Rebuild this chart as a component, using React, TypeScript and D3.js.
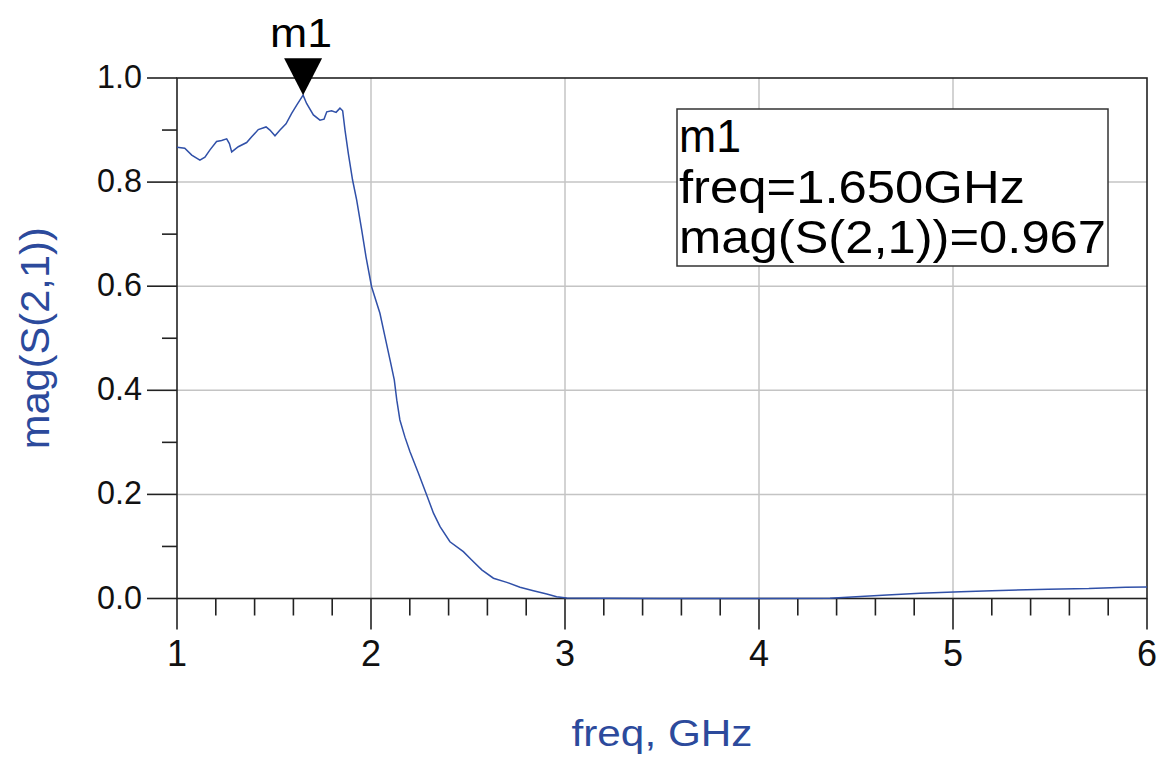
import React from "react";
import * as d3 from "d3";

const freq = [
  1.0, 1.04, 1.076, 1.118, 1.144, 1.17, 1.204, 1.23, 1.256, 1.27, 1.282, 1.316, 1.359, 1.385, 1.419,
  1.459, 1.479, 1.505, 1.531, 1.562, 1.591, 1.617, 1.65, 1.668, 1.703, 1.737, 1.758, 1.772, 1.797,
  1.82, 1.84, 1.854, 1.866, 1.883, 1.905, 1.926, 1.952, 1.974, 2.003, 2.046, 2.072, 2.1, 2.12, 2.133,
  2.149, 2.175, 2.201, 2.244, 2.287, 2.322, 2.356, 2.407, 2.476, 2.519, 2.571, 2.631, 2.7, 2.768, 2.837,
  2.906, 2.957, 3.009, 3.2, 3.5, 4.0, 4.366, 4.5, 4.66, 4.83, 5.04, 5.2, 5.49, 5.7, 5.89, 6.0,
];
const mag = [
  0.867, 0.865, 0.852, 0.842, 0.848, 0.862, 0.878, 0.88, 0.883, 0.874, 0.858, 0.868, 0.876, 0.887,
  0.901, 0.906, 0.9, 0.889, 0.9, 0.912, 0.932, 0.948, 0.967, 0.951, 0.929, 0.919, 0.921, 0.935,
  0.937, 0.934, 0.942, 0.937, 0.9, 0.855, 0.804, 0.766, 0.708, 0.657, 0.599, 0.548, 0.503, 0.455, 0.42,
  0.381, 0.343, 0.31, 0.282, 0.241, 0.199, 0.164, 0.138, 0.109, 0.09, 0.074, 0.055, 0.039, 0.031, 0.0215,
  0.015, 0.0087, 0.0035, 0.001, 0.0005, 0.0, 0.0, 0.0005, 0.0035, 0.0067, 0.01, 0.013, 0.015, 0.018,
  0.019, 0.0215, 0.022,
];

const xMajorTicks = [1, 2, 3, 4, 5, 6];
const xMinorTicks = [1.2, 1.4, 1.6, 1.8, 2.2, 2.4, 2.6, 2.8, 3.2, 3.4, 3.6, 3.8, 4.2, 4.4, 4.6, 4.8, 5.2, 5.4, 5.6, 5.8];
const yMajorTicks = [0, 0.2, 0.4, 0.6, 0.8, 1.0];
const yMinorTicks = [0.1, 0.3, 0.5, 0.7, 0.9];
const yTickLabels = ["0.0", "0.2", "0.4", "0.6", "0.8", "1.0"];

const markerName = "m1";
const markerFreq = 1.65;
const markerMag = 0.967;
const legendLines = ["m1", "freq=1.650GHz", "mag(S(2,1))=0.967"];
const legendWidths = [62, 346, 427];

const xLabel = "freq, GHz";
const yLabel = "mag(S(2,1))";

const FONT = "'Liberation Sans', Arial, sans-serif";
const BLUE_LINE = "#3050a8";
const BLUE_TEXT = "#2c4a9c";

export default function App() {
  const x = d3.scaleLinear().domain([1, 6]).range([177, 1147]);
  const y = d3.scaleLinear().domain([0, 1]).range([598.5, 78]);
  const pts: [number, number][] = freq.map((f, i) => [f, mag[i]]);
  const line = d3
    .line<[number, number]>()
    .x((d) => x(d[0]))
    .y((d) => y(d[1]));

  const [x0, x1] = x.range();
  const [y0, y1] = y.range();
  const mx = x(markerFreq);
  const my = y(markerMag);

  return (
    <svg
      width={1164}
      height={758}
      style={{ position: "absolute", left: 0, top: 0, background: "#fff" }}
      fontFamily={FONT}
    >
      <rect x={0} y={0} width={1164} height={758} fill="#fff" />
      {xMajorTicks.slice(1, -1).map((t) => (
        <line key={"gx" + t} x1={x(t)} x2={x(t)} y1={y1} y2={y0} stroke="#c4c4c4" strokeWidth={1.5} />
      ))}
      {yMajorTicks.slice(1, -1).map((t) => (
        <line key={"gy" + t} x1={x0} x2={x1} y1={y(t)} y2={y(t)} stroke="#c4c4c4" strokeWidth={1.5} />
      ))}
      <rect x={x0} y={y1} width={x1 - x0} height={y0 - y1} fill="none" stroke="#222" strokeWidth={1.6} />
      {yMajorTicks.map((t, i) => (
        <g key={"ym" + t}>
          <line x1={x0 - 30} x2={x0} y1={y(t)} y2={y(t)} stroke="#222" strokeWidth={1.6} />
          <text x={142} y={y(t) + 10} textAnchor="end" fontSize={33} fill="#111" textLength={45} lengthAdjust="spacingAndGlyphs">
            {yTickLabels[i]}
          </text>
        </g>
      ))}
      {yMinorTicks.map((t) => (
        <line key={"yn" + t} x1={x0 - 15} x2={x0} y1={y(t)} y2={y(t)} stroke="#222" strokeWidth={1.6} />
      ))}
      {xMajorTicks.map((t) => (
        <g key={"xm" + t}>
          <line x1={x(t)} x2={x(t)} y1={y0} y2={y0 + 31} stroke="#222" strokeWidth={1.6} />
          <text x={x(t)} y={666} textAnchor="middle" fontSize={36} fill="#111">
            {t}
          </text>
        </g>
      ))}
      {xMinorTicks.map((t) => (
        <line key={"xn" + t} x1={x(t)} x2={x(t)} y1={y0} y2={y0 + 17} stroke="#222" strokeWidth={1.6} />
      ))}
      <path d={line(pts) || ""} fill="none" stroke={BLUE_LINE} strokeWidth={1.5} />
      <path d={`M${mx - 19},${my - 37} L${mx + 19},${my - 37} L${mx},${my} Z`} fill="#000" />
      <text x={mx - 2} y={47} textAnchor="middle" fontSize={40} fill="#000" textLength={62} lengthAdjust="spacingAndGlyphs">
        {markerName}
      </text>
      <rect x={677} y={109} width={431} height={157} fill="#fff" stroke="#333" strokeWidth={1.5} />
      {legendLines.map((s, i) => (
        <text
          key={s}
          x={679}
          y={152 + i * 50.5}
          fontSize={46}
          fill="#000"
          textLength={legendWidths[i]}
          lengthAdjust="spacingAndGlyphs"
        >
          {s}
        </text>
      ))}
      <text x={662} y={746} textAnchor="middle" fontSize={36} fill={BLUE_TEXT} textLength={181} lengthAdjust="spacingAndGlyphs">
        {xLabel}
      </text>
      <text
        transform={`translate(49,${(y0 + y1) / 2}) rotate(-90)`}
        textAnchor="middle"
        fontSize={40}
        fill={BLUE_TEXT}
        textLength={222}
        lengthAdjust="spacingAndGlyphs"
      >
        {yLabel}
      </text>
    </svg>
  );
}
